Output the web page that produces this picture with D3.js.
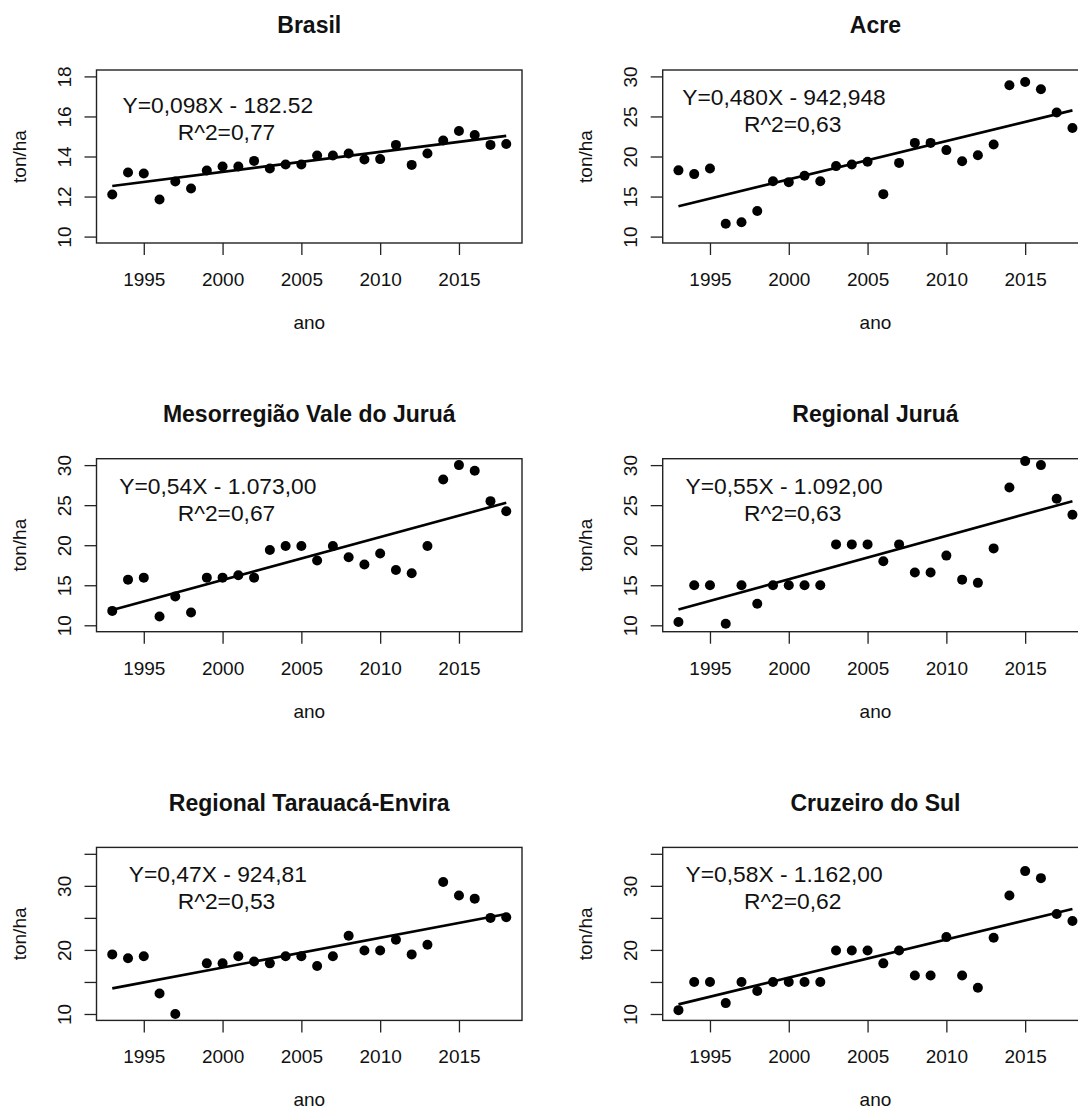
<!DOCTYPE html>
<html>
<head>
<meta charset="utf-8">
<script src="https://cdn.jsdelivr.net/npm/d3@7"></script>
<style>
  body { margin: 0; background: #fff; }
  text { font-family: "Liberation Sans", Arial, sans-serif; fill: #111; }
</style>
</head>
<body>
<div id="area"></div>
<script>
// data (ton/ha per year)
var years = [1993,1994,1995,1996,1997,1998,1999,2000,2001,2002,2003,2004,2005,
             2006,2007,2008,2009,2010,2011,2012,2013,2014,2015,2016,2017,2018];

var titles = ["Brasil", "Acre", "Mesorregião Vale do Juruá", "Regional Juruá",
              "Regional Tarauacá-Envira", "Cruzeiro do Sul"];

var brasil = [12.1,13.2,13.15,11.85,12.75,12.4,13.3,13.5,13.5,13.78,13.4,13.6,13.6,
              14.05,14.05,14.15,13.85,13.87,14.58,13.58,14.15,14.8,15.27,15.07,14.58,14.62];
var acre = [18.27,17.8,18.5,11.6,11.8,13.2,16.9,16.8,17.6,16.9,18.8,19.0,19.35,
            15.3,19.2,21.7,21.7,20.8,19.4,20.15,21.5,28.9,29.3,28.4,25.5,23.55];
var valeJurua = [11.8,15.7,15.95,11.1,13.6,11.6,15.95,15.95,16.25,15.95,19.4,19.9,19.9,
                 18.1,19.9,18.5,17.6,18.96,16.9,16.5,19.9,28.2,30.0,29.3,25.5,24.25];
var regionalJurua = [10.4,15.0,15.0,10.2,15.0,12.7,15.0,15.0,15.0,15.0,20.1,20.1,20.1,
                     18.0,20.1,16.6,16.6,18.7,15.7,15.3,19.6,27.2,30.5,30.0,25.8,23.8];
var tarauaca = [19.3,18.7,19.0,13.2,10.0,null,17.9,17.9,19.0,18.2,17.9,19.0,19.0,
                17.5,19.0,22.2,19.9,19.9,21.6,19.3,20.8,30.6,28.5,28.0,25.0,25.1];
var cruzeiro = [10.6,15.0,15.0,11.7,15.0,13.6,15.0,15.0,15.0,15.0,19.9,19.9,19.9,
                17.9,19.9,16.0,16.0,22.0,16.0,14.1,21.9,28.5,32.3,31.2,25.6,24.5];

// fitted line, value at 1993 and at 2018
var fitStart = [12.53, 13.8, 11.9, 11.96, 14.0, 11.5];
var fitEnd = [15.03, 25.76, 25.3, 25.5, 25.6, 26.4];

var equations = ["Y=0,098X - 182.52", "Y=0,480X - 942,948", "Y=0,54X - 1.073,00",
                 "Y=0,55X - 1.092,00", "Y=0,47X - 924,81", "Y=0,58X - 1.162,00"];
var r2labels = ["R^2=0,77", "R^2=0,63", "R^2=0,67", "R^2=0,63", "R^2=0,53", "R^2=0,62"];
var eqValue = [16.16, 26.45, 26.4, 26.4, 30.57, 30.57];

var yLimits = [[10, 18], [10, 30], [10, 30], [10, 30], [10, 35], [10, 35]];
var yTicks = [[10,12,14,16,18], [10,15,20,25,30], [10,15,20,25,30],
              [10,15,20,25,30], [10,15,20,25,30,35], [10,15,20,25,30,35]];
var yLabels = [[10,12,14,16,18], [10,15,20,25,30], [10,15,20,25,30],
               [10,15,20,25,30], [10,20,30], [10,20,30]];
var xTicks = [1995, 2000, 2005, 2010, 2015];

var series = [brasil, acre, valeJurua, regionalJurua, tarauaca, cruzeiro];

var colW = 566.2;
var rowH = 388.7;
var box = { left: 96.5, top: 70, width: 425.5, height: 173 };

var svg = d3.select("#area").append("svg")
            .attr("width", 1078)
            .attr("height", 1110);

titles.forEach(function(title, i){
  var col = i % 2;
  var row = Math.floor(i / 2);

  var panel = svg.append("g")
                 .attr("transform", "translate(" + (col * colW) + "," + (row * rowH) + ")");

  var lo = yLimits[i][0], hi = yLimits[i][1];
  var pad = 0.04 * (hi - lo);

  var xScale = d3.scaleLinear()
                 .domain([1992, 2019])
                 .range([0, box.width]);
  var yScale = d3.scaleLinear()
                 .domain([lo - pad, hi + pad])
                 .range([box.height, 0]);

  var g = panel.append("g")
               .attr("transform", "translate(" + box.left + "," + box.top + ")");

  // axes, R style
  var xAxis = g.append("g")
               .attr("class", "x_axis")
               .attr("transform", "translate(0," + box.height + ")")
               .call(d3.axisBottom(xScale).tickValues(xTicks).tickSize(12)
                       .tickFormat(d3.format("d")));
  xAxis.select(".domain").remove();
  xAxis.selectAll("line").attr("stroke", "#222").attr("stroke-width", 1.3);
  xAxis.selectAll("text")
       .attr("y", 43)
       .attr("dy", null)
       .attr("fill", "#111")
       .style("font-size", "19px")
       .style("font-family", "Liberation Sans, Arial, sans-serif");

  var labels = yLabels[i];
  var yAxis = g.append("g")
               .attr("class", "y_axis")
               .call(d3.axisLeft(yScale).tickValues(yTicks[i]).tickSize(12)
                       .tickFormat(function(d){ return labels.indexOf(d) >= 0 ? d : ""; }));
  yAxis.select(".domain").remove();
  yAxis.selectAll("line").attr("stroke", "#222").attr("stroke-width", 1.3);
  yAxis.selectAll("text")
       .attr("x", null)
       .attr("dy", null)
       .attr("text-anchor", "middle")
       .attr("transform", "translate(-26,0) rotate(-90)")
       .attr("fill", "#111")
       .style("font-size", "19px")
       .style("font-family", "Liberation Sans, Arial, sans-serif");

  // plot box
  g.append("rect")
   .attr("width", box.width)
   .attr("height", box.height)
   .attr("fill", "none")
   .attr("stroke", "#222")
   .attr("stroke-width", 1.4);

  var points = years.map(function(y, k){ return { year: y, value: series[i][k] }; })
                    .filter(function(d){ return d.value !== null; });

  g.selectAll(".dot")
   .data(points)
   .enter().append("circle")
   .attr("class", "dot")
   .attr("cx", function(d){ return xScale(d.year); })
   .attr("cy", function(d){ return yScale(d.value); })
   .attr("r", 5)
   .attr("fill", "#000");

  var fit = [{ year: years[0], value: fitStart[i] },
             { year: years[years.length - 1], value: fitEnd[i] }];
  var line = d3.line()
               .x(function(d){ return xScale(d.year); })
               .y(function(d){ return yScale(d.value); });
  g.append("path")
   .datum(fit)
   .attr("d", line)
   .attr("fill", "none")
   .attr("stroke", "#000")
   .attr("stroke-width", 2.6);

  // equation text
  g.append("text")
   .attr("x", xScale(1999.7))
   .attr("y", yScale(eqValue[i]))
   .attr("text-anchor", "middle")
   .style("font-size", "22.8px")
   .text(equations[i]);
  g.append("text")
   .attr("x", xScale(2000.25))
   .attr("y", yScale(eqValue[i]) + 27)
   .attr("text-anchor", "middle")
   .style("font-size", "22.8px")
   .text(r2labels[i]);

  // titles and axis labels
  panel.append("text")
       .attr("x", box.left + box.width / 2)
       .attr("y", 33.3)
       .attr("text-anchor", "middle")
       .style("font-size", "23px")
       .style("font-weight", "bold")
       .text(title);

  panel.append("text")
       .attr("x", box.left + box.width / 2)
       .attr("y", box.top + box.height + 86)
       .attr("text-anchor", "middle")
       .style("font-size", "19px")
       .text("ano");

  panel.append("text")
       .attr("transform", "translate(26," + (box.top + box.height / 2) + ") rotate(-90)")
       .attr("text-anchor", "middle")
       .style("font-size", "19px")
       .text("ton/ha");
});
</script>
</body>
</html>
